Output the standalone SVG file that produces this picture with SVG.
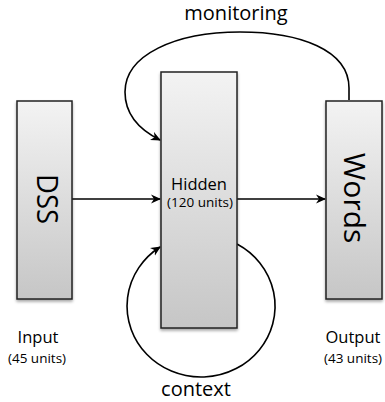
<svg xmlns="http://www.w3.org/2000/svg" width="385" height="402" viewBox="0 0 385 402">
<style>
  .box { fill: url(#grad); stroke: #222; stroke-width: 1.5; filter: url(#shadow); }
  .conn { fill: none; stroke: #000; stroke-width: 1.6; }
  text { font-family: "Open Sans", "DejaVu Sans", sans-serif; fill: #000; text-anchor: middle; }
  .big { font-size: 30px; }
  .lbl { font-size: 16.5px; }
  .sub { font-size: 13.5px; }
  .title { font-size: 20px; }
</style>
<defs>
  <linearGradient id="grad" x1="0" y1="0" x2="0" y2="1">
    <stop offset="0" stop-color="#f3f3f3"/>
    <stop offset="1" stop-color="#c6c6c6"/>
  </linearGradient>
  <filter id="shadow" x="-20%" y="-10%" width="140%" height="125%">
    <feGaussianBlur in="SourceAlpha" stdDeviation="1.5"/>
    <feOffset dx="0" dy="2" result="b"/>
    <feComponentTransfer><feFuncA type="linear" slope="0.35"/></feComponentTransfer>
    <feMerge><feMergeNode/><feMergeNode in="SourceGraphic"/></feMerge>
  </filter>
  <marker id="arrow" viewBox="0 0 10 10" refX="9" refY="5" markerWidth="10" markerHeight="10" markerUnits="userSpaceOnUse" orient="auto">
    <path d="M0,0.5 L10,5 L0,9.5 L3,5 z" fill="#000"/>
  </marker>
</defs>

<g id="connectors">
  <path class="conn" d="M72,199 L160,199" marker-end="url(#arrow)"/>
  <path class="conn" d="M237,199 L325,199" marker-end="url(#arrow)"/>
  <path class="conn" d="M349,100 L349,88 C349,50 300,32 240,32 C175,32 125,55 125,92 C125,115 140,130 160,140" marker-end="url(#arrow)"/>
  <path class="conn" d="M237,244 A74 71 0 1 1 160,247" marker-end="url(#arrow)"/>
</g>

<g id="dss">
  <rect class="box" x="17" y="101" width="55" height="198"/>
  <text class="big" transform="translate(37,199) rotate(90)" textLength="50" lengthAdjust="spacingAndGlyphs">DSS</text>
</g>

<g id="hidden">
  <rect class="box" x="161" y="72" width="76" height="256"/>
  <text class="lbl" x="199" y="190">Hidden</text>
  <text class="sub" x="200" y="207">(120 units)</text>
</g>

<g id="words">
  <rect class="box" x="326" y="101" width="56" height="198"/>
  <text class="big" transform="translate(344,198) rotate(90)">Words</text>
</g>

<g id="labels">
  <text class="title" x="236" y="20">monitoring</text>
  <text class="title" x="196" y="396">context</text>
  <text class="lbl" x="38" y="343">Input</text>
  <text class="sub" x="37" y="363">(45 units)</text>
  <text class="lbl" x="353" y="343">Output</text>
  <text class="sub" x="353" y="363">(43 units)</text>
</g>
</svg>
